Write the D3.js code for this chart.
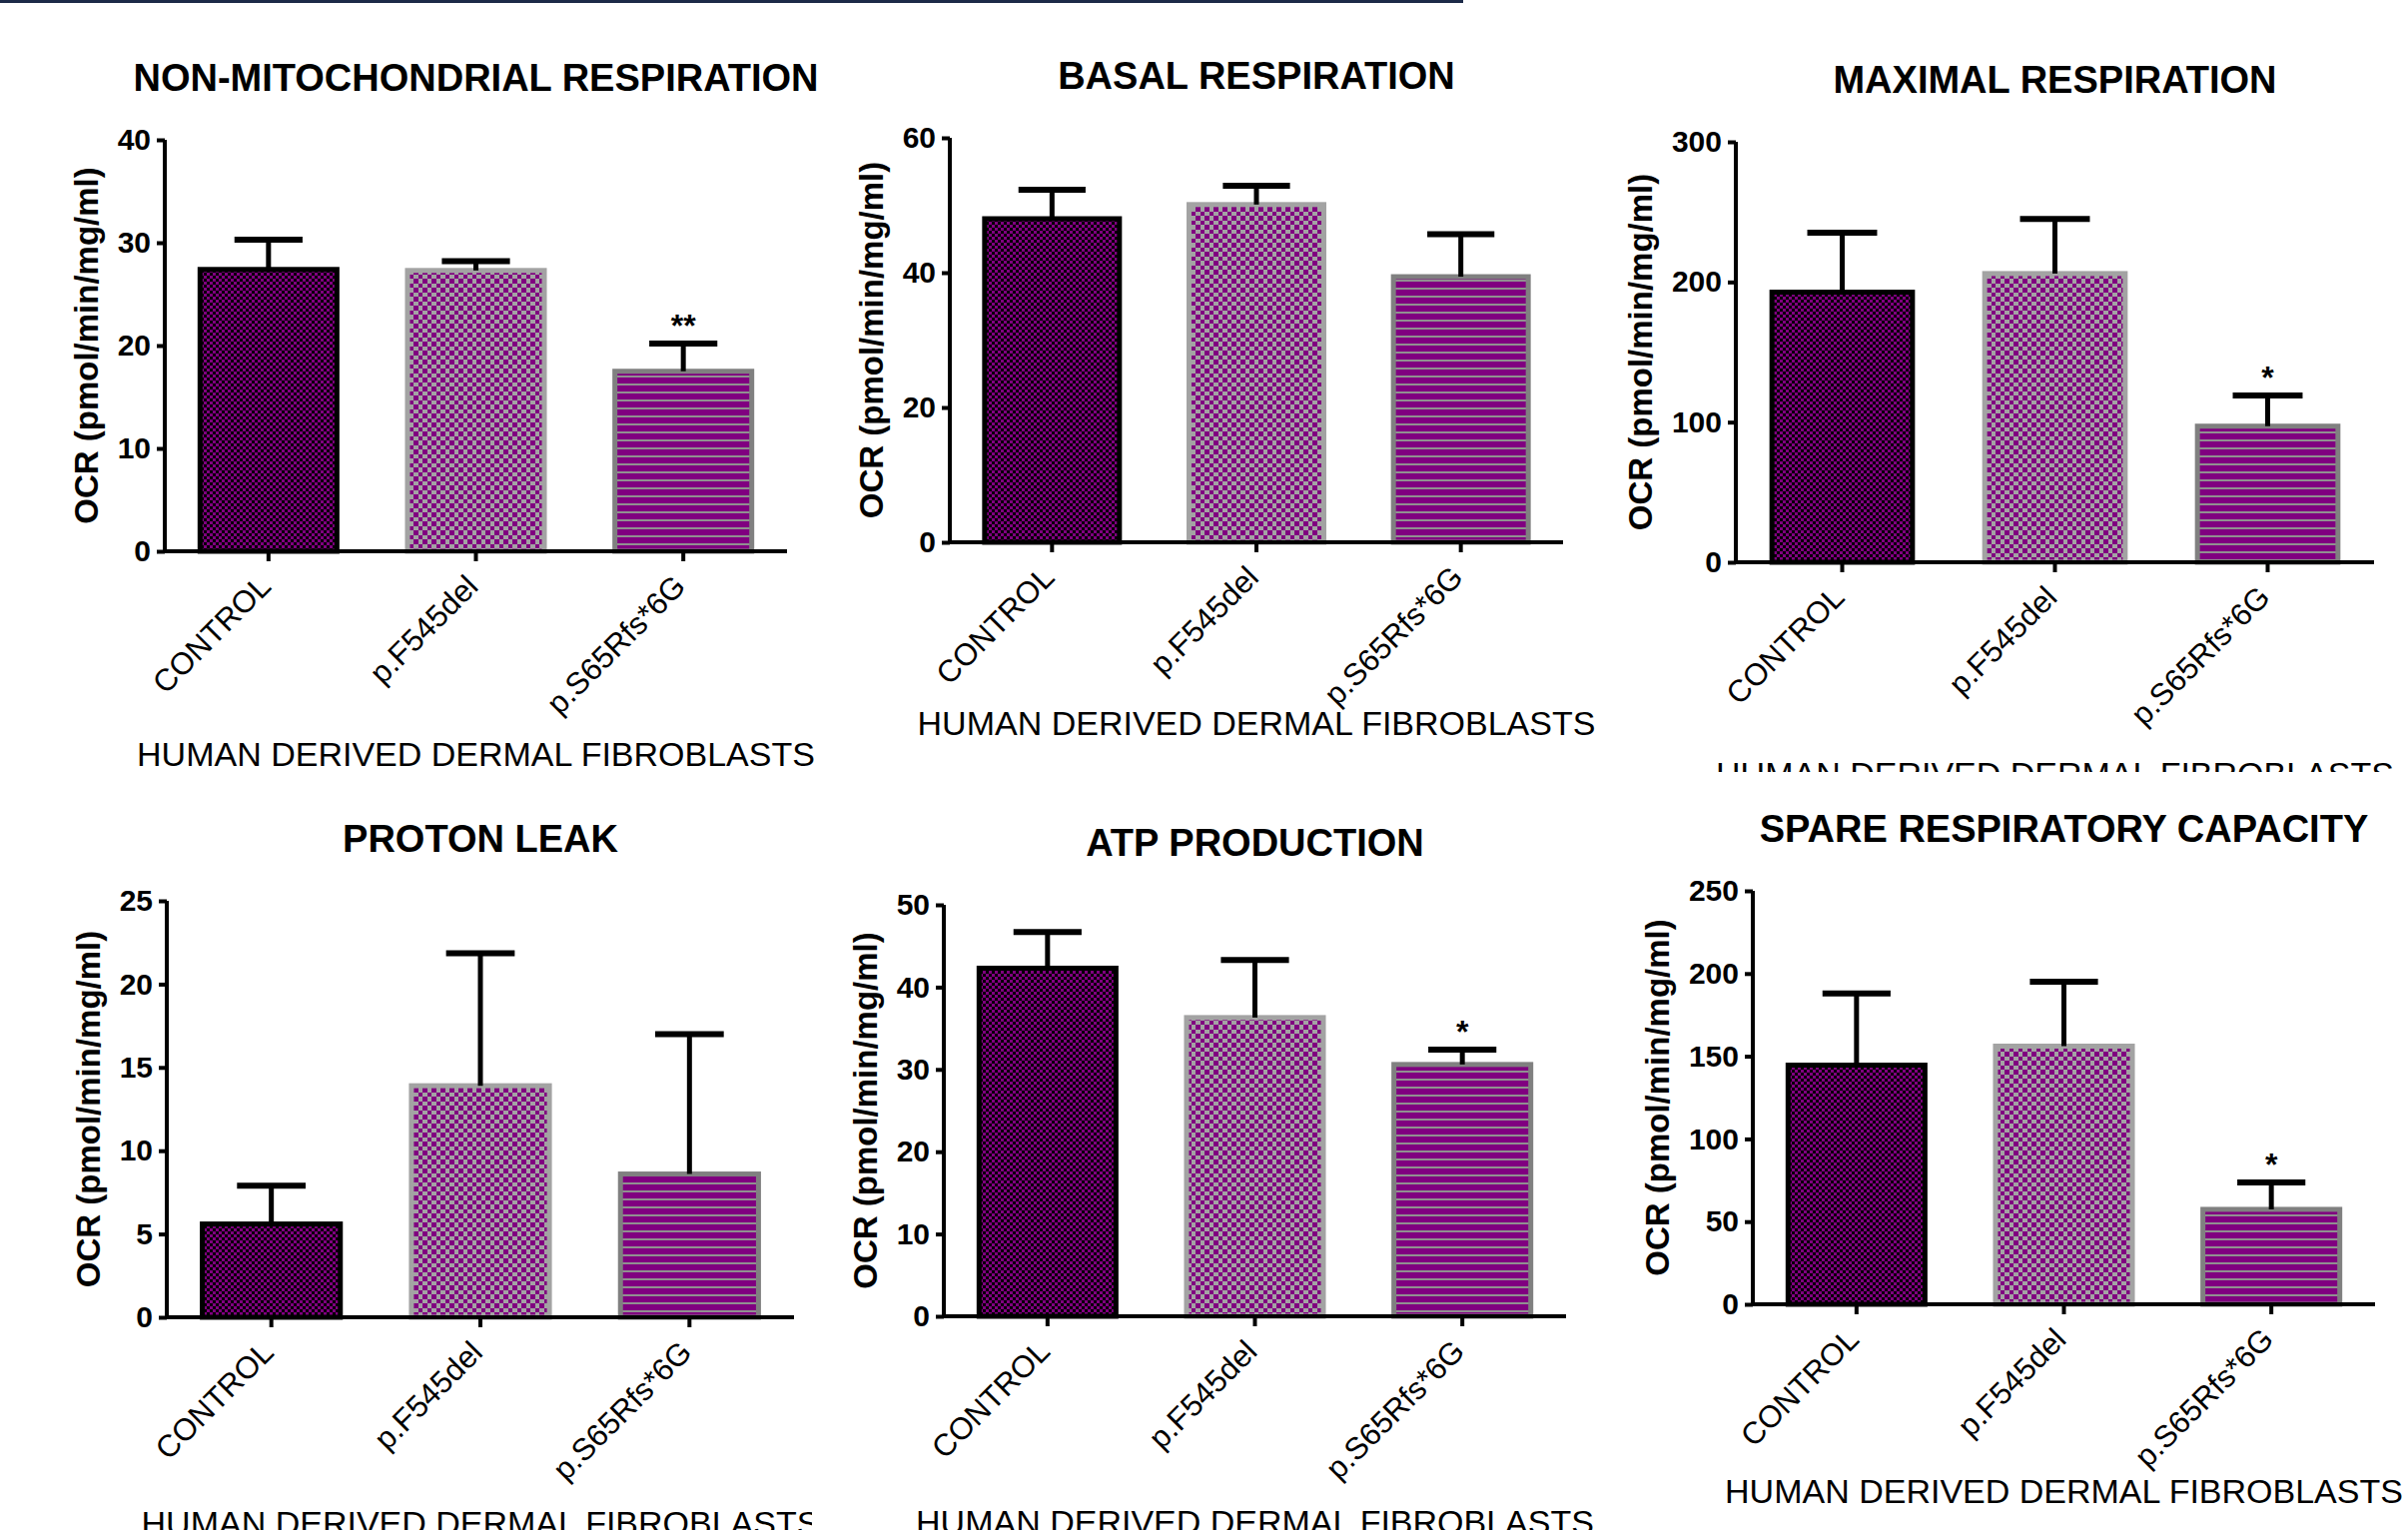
<!DOCTYPE html>
<html>
<head>
<meta charset="utf-8">
<script src="https://cdn.jsdelivr.net/npm/d3@7"></script>
<style>
  body { margin: 0; background: #fff; }
  svg { display: block; font-family: "Liberation Sans", Arial, sans-serif; }
</style>
</head>
<body>
<div id="chart"></div>
<script>
// --- data ---
const categories = ["CONTROL", "p.F545del", "p.S65Rfs*6G"];
const titles = [
  "NON-MITOCHONDRIAL RESPIRATION", "BASAL RESPIRATION", "MAXIMAL RESPIRATION",
  "PROTON LEAK", "ATP PRODUCTION", "SPARE RESPIRATORY CAPACITY"
];
const means = [
  [27.4, 27.3, 17.5],
  [48.0, 50.1, 39.4],
  [192.7, 206.0, 97.1],
  [5.6, 13.9, 8.6],
  [42.3, 36.3, 30.6],
  [144.6, 156.1, 57.4]
];
const sems = [
  [2.9, 0.9, 2.7],
  [4.3, 2.8, 6.3],
  [42.4, 39.0, 21.9],
  [2.3, 7.95, 8.4],
  [4.4, 7.0, 1.8],
  [43.4, 38.9, 16.3]
];
const yMax = [40, 60, 300, 25, 50, 250];
const yStep = [10, 20, 100, 5, 10, 50];
const stars = [
  ["", "", "**"], ["", "", ""], ["", "", "*"],
  ["", "", ""], ["", "", "*"], ["", "", "*"]
];
const yLabel = "OCR (pmol/min/mg/ml)";
const xLabel = "HUMAN DERIVED DERMAL FIBROBLASTS";

// --- panel layout (pixels) ---
const layout = [
  { x0: 165, x1: 788, yTop: 140, y0: 552, xt: 203, clip: null },
  { x0: 951, x1: 1565, yTop: 138, y0: 543, xt: 181, clip: null },
  { x0: 1738, x1: 2377, yTop: 142, y0: 563, xt: 212, clip: [1600, 0, 811, 773] },
  { x0: 167, x1: 795, yTop: 902, y0: 1319, xt: 206, clip: [0, 780, 813, 752] },
  { x0: 945, x1: 1568, yTop: 906, y0: 1318, xt: 206, clip: null },
  { x0: 1755, x1: 2378, yTop: 892, y0: 1306, xt: 187, clip: null }
];

const W = 2411, H = 1532;
const purple = "#800080";

const svg = d3.select("#chart").append("svg")
  .attr("width", W).attr("height", H);

svg.append("rect").attr("width", W).attr("height", H).attr("fill", "#fff");
// thin dark rule at the very top
svg.append("rect").attr("x", 0).attr("y", 0).attr("width", 1465).attr("height", 3).attr("fill", "#1c2a48");

// --- fill patterns ---
const defs = svg.append("defs");
const pFine = defs.append("pattern").attr("id", "fine")
  .attr("patternUnits", "userSpaceOnUse").attr("width", 6).attr("height", 6);
pFine.append("rect").attr("width", 6).attr("height", 6).attr("fill", "#000");
pFine.append("rect").attr("width", 3).attr("height", 3).attr("fill", purple);
pFine.append("rect").attr("x", 3).attr("y", 3).attr("width", 3).attr("height", 3).attr("fill", purple);

// coarse checker: 9px tile, whole-pixel cells
const pCheck = defs.append("pattern").attr("id", "check")
  .attr("patternUnits", "userSpaceOnUse").attr("width", 9).attr("height", 9);
pCheck.append("rect").attr("width", 9).attr("height", 9).attr("fill", "#a3a3a3");
pCheck.append("rect").attr("width", 5).attr("height", 5).attr("fill", purple);
pCheck.append("rect").attr("x", 5).attr("y", 5).attr("width", 4).attr("height", 4).attr("fill", purple);

const pStripe = defs.append("pattern").attr("id", "stripe")
  .attr("patternUnits", "userSpaceOnUse").attr("width", 8).attr("height", 8);
pStripe.append("rect").attr("width", 8).attr("height", 8).attr("fill", purple);
pStripe.append("rect").attr("width", 8).attr("height", 2).attr("fill", "#909090");

const barFill = ["url(#fine)", "url(#check)", "url(#stripe)"];
const barStroke = ["#000", "#a3a3a3", "#808080"];

layout.forEach((L, i) => {
  let g = svg.append("g");
  if (L.clip) {
    defs.append("clipPath").attr("id", "clip" + i)
      .append("rect").attr("x", L.clip[0]).attr("y", L.clip[1])
      .attr("width", L.clip[2]).attr("height", L.clip[3]);
    g.attr("clip-path", `url(#clip${i})`);
  }

  const x = d3.scaleBand().domain(categories).range([L.x0, L.x1])
    .paddingInner(0.316).paddingOuter(0.158);
  const y = d3.scaleLinear().domain([0, yMax[i]]).range([L.y0, L.yTop]);
  const bw = x.bandwidth();
  const rows = categories.map((cat, j) => ({ cat, j, m: means[i][j], e: sems[i][j], s: stars[i][j] }));

  // bars
  g.selectAll("rect.bar").data(rows).join("rect")
    .attr("class", "bar")
    .attr("x", d => x(d.cat) + 2.5)
    .attr("y", d => y(d.m))
    .attr("width", bw - 5)
    .attr("height", d => L.y0 - y(d.m))
    .attr("fill", d => barFill[d.j])
    .attr("stroke", d => barStroke[d.j])
    .attr("stroke-width", 5);

  // error bars (upper only)
  g.selectAll("line.err").data(rows).join("line")
    .attr("x1", d => x(d.cat) + bw / 2).attr("x2", d => x(d.cat) + bw / 2)
    .attr("y1", d => y(d.m)).attr("y2", d => y(d.m + d.e))
    .attr("stroke", "#000").attr("stroke-width", 5);
  g.selectAll("line.cap").data(rows).join("line")
    .attr("x1", d => x(d.cat) + bw * 0.26).attr("x2", d => x(d.cat) + bw * 0.74)
    .attr("y1", d => y(d.m + d.e)).attr("y2", d => y(d.m + d.e))
    .attr("stroke", "#000").attr("stroke-width", 6);

  // significance
  g.selectAll("text.star").data(rows.filter(d => d.s)).join("text")
    .attr("x", d => x(d.cat) + bw / 2)
    .attr("y", d => y(d.m + d.e) - 7)
    .attr("text-anchor", "middle")
    .attr("font-size", 32).attr("font-weight", "bold")
    .text(d => d.s);

  // y axis
  const yAxis = d3.axisLeft(y).tickValues(d3.range(0, yMax[i] + 1e-9, yStep[i]))
    .tickSize(8).tickPadding(6).tickSizeOuter(0);
  const ya = g.append("g").attr("transform", `translate(${L.x0},0)`).call(yAxis);
  ya.select(".domain").attr("stroke", "#000").attr("stroke-width", 4)
    .attr("d", `M0,${L.yTop}V${L.y0 + 2}`);
  ya.selectAll(".tick line").attr("stroke", "#000").attr("stroke-width", 4);
  ya.selectAll(".tick text").attr("font-size", 30).attr("font-weight", "bold")
    .attr("fill", "#000");
  ya.attr("font-family", null);
  let tw = 0;
  ya.selectAll(".tick text").each(function () { tw = Math.max(tw, this.getComputedTextLength()); });

  // x axis
  const xAxis = d3.axisBottom(x).tickSize(10).tickSizeOuter(0).tickFormat("");
  const xa = g.append("g").attr("transform", `translate(0,${L.y0})`).call(xAxis);
  xa.select(".domain").attr("stroke", "#000").attr("stroke-width", 4)
    .attr("d", `M${L.x0 - 2},0H${L.x1}`);
  xa.selectAll(".tick line").attr("stroke", "#000").attr("stroke-width", 4);

  // category labels, rotated
  g.selectAll("text.cat").data(rows).join("text")
    .attr("transform", d => `translate(${x(d.cat) + bw / 2 + 4},${L.y0 + 37}) rotate(-45)`)
    .attr("text-anchor", "end")
    .attr("font-size", 31)
    .text(d => d.cat);

  // titles
  const cx = (L.x0 + L.x1) / 2;
  g.append("text").attr("x", cx).attr("y", L.yTop - 63 + 13.6)
    .attr("text-anchor", "middle").attr("font-size", 38).attr("font-weight", "bold")
    .text(titles[i]);
  g.append("text").attr("x", cx).attr("y", L.y0 + L.xt + 12)
    .attr("text-anchor", "middle").attr("font-size", 34)
    .text(xLabel);
  g.append("text")
    .attr("transform", `translate(${L.x0 - 14 - tw - 20},${(L.yTop + L.y0) / 2}) rotate(-90)`)
    .attr("text-anchor", "middle").attr("font-size", 33).attr("font-weight", "bold")
    .text(yLabel);
});
</script>
</body>
</html>
